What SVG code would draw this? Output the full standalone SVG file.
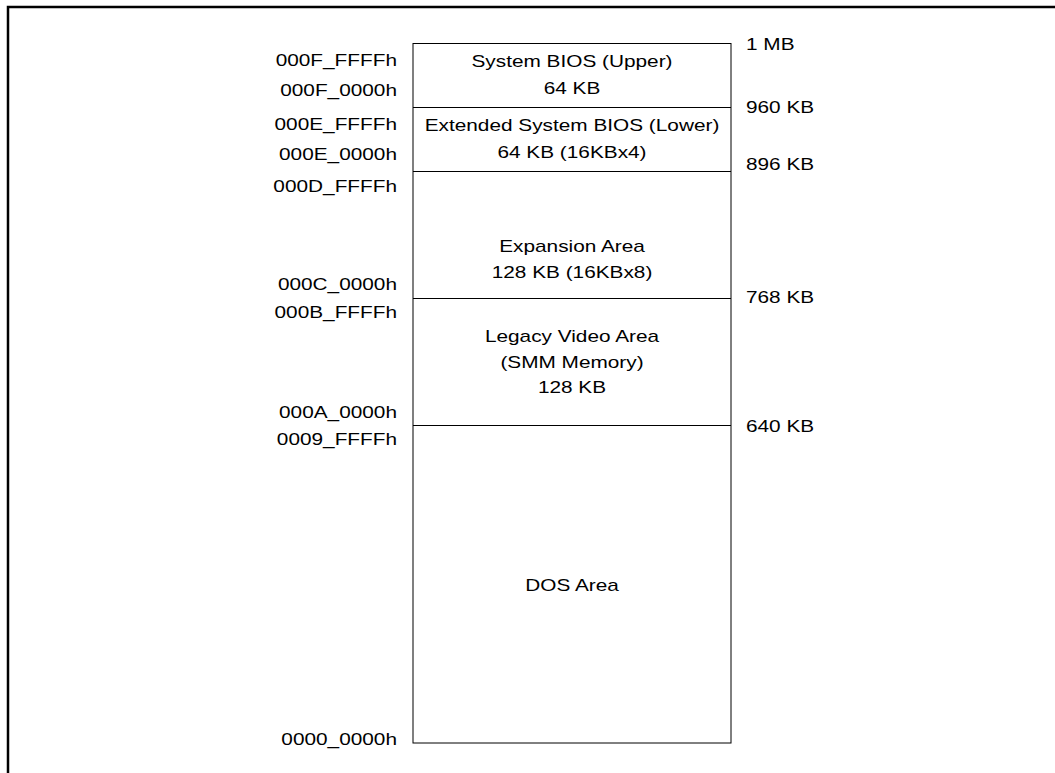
<svg xmlns="http://www.w3.org/2000/svg" width="1055" height="773" viewBox="0 0 1055 773">
<style>
text{font-family:"Liberation Sans",Arial,sans-serif;font-size:16px;fill:#000}
.l{text-anchor:end}
.c{text-anchor:middle}
.r{text-anchor:start}
.frame{fill:none;stroke:#000;stroke-width:2.5}
.box{fill:#fff;stroke:#000;stroke-width:1}
.div{stroke:#000;stroke-width:1}
</style>
<rect width="1055" height="773" fill="#fff"/>
<path class="frame" d="M8,773 V7 H1055"/>
<g id="memory-map">
<rect class="box" x="413" y="43.5" width="318" height="699.5"/>
</g>
<g id="connectors">
<line class="div" x1="413" y1="107.5" x2="731" y2="107.5"/>
<line class="div" x1="413" y1="171.5" x2="731" y2="171.5"/>
<line class="div" x1="413" y1="298.5" x2="731" y2="298.5"/>
<line class="div" x1="413" y1="425.5" x2="731" y2="425.5"/>
</g>
<g id="system-bios-upper">
<text class="c" transform="translate(572,67) scale(1.3,1)">System BIOS (Upper)</text>
<text class="c" transform="translate(572,94) scale(1.3,1)">64 KB</text>
</g>
<g id="extended-system-bios">
<text class="c" transform="translate(572,131) scale(1.3,1)">Extended System BIOS (Lower)</text>
<text class="c" transform="translate(572,158) scale(1.3,1)">64 KB (16KBx4)</text>
</g>
<g id="expansion-area">
<text class="c" transform="translate(572,252) scale(1.3,1)">Expansion Area</text>
<text class="c" transform="translate(572,278) scale(1.3,1)">128 KB (16KBx8)</text>
</g>
<g id="legacy-video">
<text class="c" transform="translate(572,342) scale(1.3,1)">Legacy Video Area</text>
<text class="c" transform="translate(572,367.5) scale(1.3,1)">(SMM Memory)</text>
<text class="c" transform="translate(572,393) scale(1.3,1)">128 KB</text>
</g>
<g id="dos-area">
<text class="c" transform="translate(572,591) scale(1.3,1)">DOS Area</text>
</g>
<g id="addresses">
<text class="l" transform="translate(397,66) scale(1.3,1)">000F_FFFFh</text>
<text class="l" transform="translate(397,96) scale(1.3,1)">000F_0000h</text>
<text class="l" transform="translate(397,130) scale(1.3,1)">000E_FFFFh</text>
<text class="l" transform="translate(397,160) scale(1.3,1)">000E_0000h</text>
<text class="l" transform="translate(397,192) scale(1.3,1)">000D_FFFFh</text>
<text class="l" transform="translate(397,290) scale(1.3,1)">000C_0000h</text>
<text class="l" transform="translate(397,318) scale(1.3,1)">000B_FFFFh</text>
<text class="l" transform="translate(397,418) scale(1.3,1)">000A_0000h</text>
<text class="l" transform="translate(397,445) scale(1.3,1)">0009_FFFFh</text>
<text class="l" transform="translate(397,745) scale(1.3,1)">0000_0000h</text>
</g>
<g id="sizes">
<text class="r" transform="translate(746,50) scale(1.3,1)">1 MB</text>
<text class="r" transform="translate(746,113) scale(1.3,1)">960 KB</text>
<text class="r" transform="translate(746,169.5) scale(1.3,1)">896 KB</text>
<text class="r" transform="translate(746,303) scale(1.3,1)">768 KB</text>
<text class="r" transform="translate(746,431.5) scale(1.3,1)">640 KB</text>
</g>
</svg>
